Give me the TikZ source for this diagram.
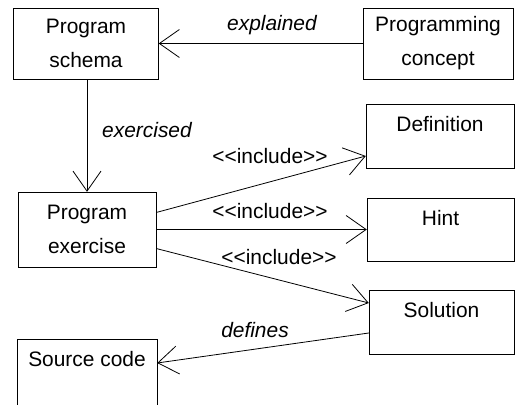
\documentclass[tikz,border=0pt]{standalone}
\usepackage{fontspec}
\setmainfont{Liberation Sans}
\usetikzlibrary{arrows.meta}

\begin{document}
\begin{tikzpicture}[box/.style={draw,align=center,inner sep=0pt,font=\fontsize{21}{34}\selectfont},
  topbox/.style={draw,inner xsep=0pt,inner ysep=12bp,text height=15bp,text depth=#1,font=\fontsize{21}{25}\selectfont},
  lbl/.style={font=\fontsize{21}{25}\selectfont},
  uml/.style={-{Straight Barb[length=20bp,width=28bp]},line width=0.8bp}]

\useasboundingbox (0bp,0bp) rectangle (515bp,-405bp);

\node (schema) at (86bp,-43.5bp)[box,minimum width=145bp,minimum height=71bp] {Program\\schema};
\node (concept) at (438bp,-43.5bp)[box,minimum width=150bp,minimum height=71bp] {Programming\\concept};
\node (exercise) at (87bp,-229.5bp)[box,minimum width=138bp,minimum height=75bp] {Program\\exercise};
\node (definition) at (440bp,-136bp)[topbox=25bp,minimum width=148bp] {Definition};
\node (hint) at (440.5bp,-229.5bp)[topbox=24bp,minimum width=147bp] {Hint};
\node (solution) at (441.5bp,-322bp)[topbox=25bp,minimum width=145bp] {Solution};
\node (source) at (87bp,-379.5bp)[topbox=42bp,minimum width=140bp] {Source code};

\node (explained) at (272bp,-25bp)[lbl] {\itshape explained};
\node (exercised) at (147bp,-130bp)[lbl] {\itshape exercised};
\node (incl1) at (270bp,-156bp)[lbl] {<\kern0pt<include>\kern0pt>};
\node (incl2) at (270bp,-211bp)[lbl] {<\kern0pt<include>\kern0pt>};
\node (incl3) at (279bp,-257bp)[lbl] {<\kern0pt<include>\kern0pt>};
\node (defines) at (255bp,-330bp)[lbl] {\itshape defines};

\draw [uml] (concept) -- (schema);
\draw [uml] (schema.south -| exercise.north) -- (exercise.north);
\draw [uml] ([yshift=17bp]exercise.east) -- ([yshift=-20bp]definition.west);
\draw [uml] (exercise.east) -- (hint.west);
\draw [uml] ([yshift=-19bp]exercise.east) -- ([yshift=19bp]solution.west);
\draw [uml] ([yshift=-11bp]solution.west) -- ([yshift=16.5bp]source.east);
\end{tikzpicture}
\end{document}
